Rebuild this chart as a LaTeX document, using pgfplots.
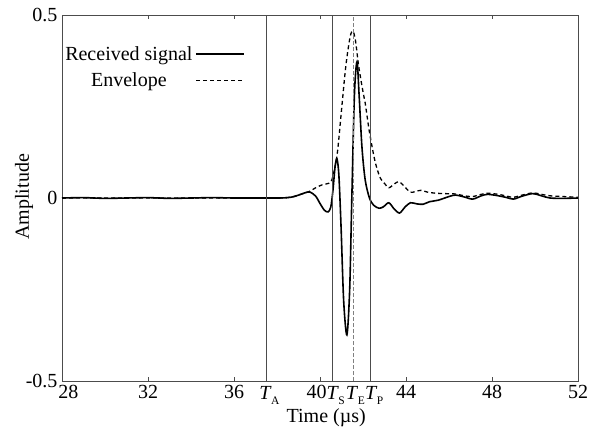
\documentclass[border=0pt]{standalone}
\usepackage{fontspec}
\setmainfont{Liberation Serif}
\usepackage{pgfplots}
\pgfplotsset{compat=1.18}
\definecolor{axgray}{gray}{0.3}
\newcommand{\Tl}[1]{\textit{T}\kern-0.5pt\raisebox{-4.5pt}{\fontsize{11.5}{12}\selectfont #1}}
\begin{document}
\begin{tikzpicture}[font=\fontsize{20}{24}\selectfont]
\useasboundingbox (-62pt,-45pt) rectangle (539pt,381pt);
\begin{axis}[
  scale only axis,
  width=516pt, height=366pt,
  xmin=28, xmax=52, ymin=-0.5, ymax=0.5,
  xtick={28,32,36,40,44,48,52},
  xticklabels={\hspace*{13pt}28,32,36,\hspace*{-7pt}40,44,48,52},
  ytick={-0.5,0,0.5},
  yticklabels={-0.5,0,0.5},
  tick align=inside,
  major tick length=4pt,
  tick style={axgray, line width=0.6pt},
  axis line style={axgray, line width=0.8pt},
  /pgf/number format/assume math mode=true,
  extra x ticks={37.53,40.57,41.53,42.33},
  extra x tick labels={\Tl{A},\hspace*{2pt}\Tl{S},\Tl{E},\hspace*{3pt}\Tl{P}},
  extra x tick style={major tick length=0pt, x tick label style={xshift=2.5pt, yshift=-1pt}},
  xlabel={Time (\textmu s)},
  ylabel={Amplitude},
  every axis x label/.style={at={([yshift=-41pt]rel axis cs:0.512,0)}, anchor=base},
  every axis y label/.style={at={([xshift=-33pt]rel axis cs:0,0.503)}, rotate=90, anchor=base},
  x tick label style={yshift=-1pt},
  y tick label style={xshift=-1pt},
  legend style={at={(axis cs:28.05,0.42)}, anchor=north west, draw=none, fill=none,
    inner sep=0pt, row sep=7pt, column sep=1pt, font=\fontsize{20}{24}\selectfont},
  legend plot pos=right,
  legend cell align=center,
  legend image code/.code={\draw[#1] (0pt,0pt) -- (48pt,0pt);},
  clip=false,
]
\addplot[black, line width=1.6pt, smooth, tension=0.5] coordinates {
(28,0) (29,0.001) (30,-0.001) (31,0) (32,0.001) (33,-0.001) (34,0) (35,0.001)
(36,0) (37,0) (38,0) (38.5,0.001) (38.8,0.004) (39.1,0.01) (39.4,0.016)
(39.55,0.016) (39.8,0.005) (40.0,-0.015) (40.2,-0.033) (40.37,-0.038)
(40.5,-0.025) (40.6,0.02) (40.7,0.085) (40.79,0.107) (40.88,0.06) (40.98,-0.08)
(41.1,-0.28) (41.25,-0.374) (41.38,-0.25) (41.48,0.0) (41.6,0.28) (41.72,0.372)
(41.82,0.28) (41.95,0.14) (42.1,0.05) (42.3,0.0) (42.5,-0.02) (42.75,-0.028)
(42.95,-0.024) (43.2,-0.013) (43.45,-0.03) (43.7,-0.041) (43.95,-0.025)
(44.2,-0.013) (44.5,-0.016) (44.8,-0.017) (45.1,-0.01) (45.5,-0.006)
(46.0,0.004) (46.3,0.008) (46.7,0.003) (47.1,-0.003) (47.5,0.006) (47.8,0.01)
(48.3,0.006) (48.7,0.001) (49.0,-0.003) (49.4,0.005) (49.9,0.012) (50.3,0.006)
(50.7,0.0) (51.3,-0.001) (52,0)
};
\addlegendentry{Received signal}
\addplot[black, line width=1.3pt, dash pattern=on 4pt off 3pt, smooth, tension=0.5] coordinates {
(28,0) (30,0) (32,0) (34,0) (36,0) (38,0) (38.6,0.002) (39.0,0.008) (39.5,0.018)
(39.8,0.028) (40.1,0.036) (40.47,0.042) (40.6,0.06) (40.8,0.12) (41.0,0.24)
(41.2,0.36) (41.4,0.44) (41.53,0.456) (41.65,0.43) (41.8,0.36) (42.0,0.29)
(42.1,0.26) (42.3,0.18) (42.56,0.10) (42.8,0.055) (43.0,0.04) (43.2,0.028)
(43.45,0.038) (43.67,0.045) (43.9,0.033) (44.2,0.016) (44.45,0.018) (44.7,0.021)
(45.0,0.016) (45.4,0.013) (45.8,0.012) (46.3,0.011) (46.7,0.006) (47.1,0.004)
(47.5,0.01) (47.8,0.013) (48.3,0.01) (48.7,0.005) (49.0,0.002) (49.4,0.008)
(49.9,0.014) (50.3,0.01) (50.7,0.006) (51.3,0.004) (52,0.002)
};
\addlegendentry{Envelope}
\addplot[axgray, line width=0.8pt, forget plot] coordinates {(37.53,-0.5) (37.53,0.5)};
\addplot[axgray, line width=0.8pt, forget plot] coordinates {(40.57,-0.5) (40.57,0.5)};
\addplot[axgray, line width=0.8pt, forget plot] coordinates {(42.33,-0.5) (42.33,0.5)};
\addplot[gray, line width=0.8pt, dash pattern=on 4pt off 2pt, forget plot] coordinates {(41.53,-0.5) (41.53,0.5)};
\end{axis}
\end{tikzpicture}
\end{document}
